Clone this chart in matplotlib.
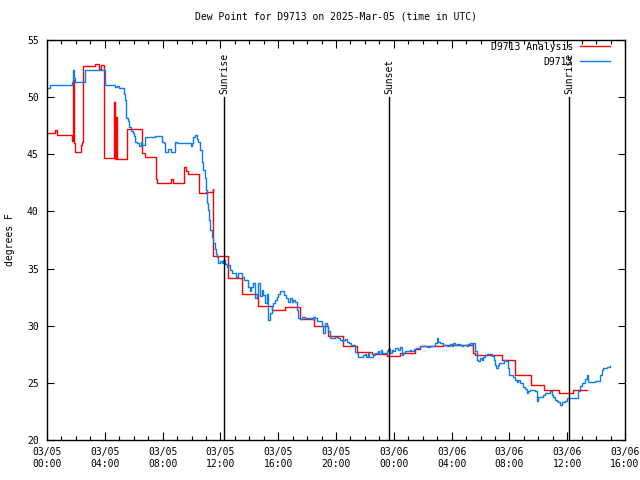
import matplotlib
matplotlib.use("Agg")
import matplotlib.pyplot as plt
from matplotlib.ticker import MultipleLocator

# hours since 2025-03-05 00:00 UTC
analysis_hours = [
    0.0, 0.55, 0.7, 1.59, 1.7, 1.8, 1.87, 1.94, 2.24, 2.35, 2.45, 2.51,
    3.35, 3.6, 3.75, 3.92, 4.64, 4.7, 4.76, 4.82, 5.51, 6.55, 6.78, 7.54,
    7.6, 8.56, 8.7, 9.5, 9.6, 9.78, 10.54, 11.0, 11.47, 11.51, 12.5, 13.52,
    14.63, 15.55, 16.47, 17.51, 18.5, 19.47, 20.51, 21.43, 22.47, 23.5,
    24.43, 25.47, 25.81, 27.43, 29.5, 29.6, 31.47, 32.39, 33.47, 34.39,
    35.45, 36.42, 37.35,
]
analysis_dewpt = [
    46.9, 47.1, 46.7, 46.7, 46.2, 51.5, 46.0, 45.2, 45.2, 45.8, 46.1, 52.7,
    52.9, 52.5, 52.8, 44.7, 49.6, 44.6, 48.3, 44.6, 47.2, 45.1, 44.8, 42.8,
    42.45, 42.8, 42.45, 43.9, 43.5, 43.3, 41.65, 41.7, 42.0, 36.1, 34.15, 32.8,
    31.7, 31.4, 31.6, 30.55, 30.0, 29.1, 28.2, 27.73, 27.5, 27.35,
    27.6, 27.95, 28.2, 28.3, 27.6, 27.45, 27.0, 25.7, 24.8, 24.4,
    24.1, 24.4, 24.4,
]

obs_hours = [
    0.0, 0.2, 1.55, 1.7, 1.8, 1.87, 1.95, 2.5, 2.6, 3.95, 4.0, 4.6, 4.7,
    4.85, 4.95, 5.2, 5.3, 5.4, 5.5, 5.6, 5.7, 5.8, 5.95, 6.05, 6.1, 6.2,
    6.35, 6.5, 6.6, 6.8, 7.5, 7.94, 8.1, 8.17, 8.4, 8.55, 8.8, 8.86, 8.97,
    9.9, 9.95, 10.05, 10.13, 10.25, 10.35, 10.45, 10.59, 10.7, 10.82, 10.9,
    10.97, 11.05, 11.15, 11.23, 11.3, 11.4, 11.5, 11.6, 11.67, 11.75, 11.86,
    11.97, 12.08, 12.2, 12.32, 12.45, 12.55, 12.66, 12.78, 13.0, 13.1, 13.25,
    13.47, 13.6, 13.85, 13.93, 14.05, 14.15, 14.28, 14.39, 14.5, 14.62,
    14.75, 14.85, 14.97, 15.09, 15.2, 15.27, 15.31, 15.43, 15.55, 15.66,
    15.78, 15.9, 16.01, 16.12, 16.3, 16.42, 16.55, 16.7, 16.82, 16.93, 17.05,
    17.16, 17.28, 17.39, 17.5, 17.62, 17.85, 18.2, 18.32, 18.43, 18.55,
    18.66, 18.9, 19.0, 19.12, 19.24, 19.35, 19.47, 19.58, 19.8, 19.93,
    20.15, 20.28, 20.4, 20.51, 20.6, 20.75, 20.9, 21.05, 21.2, 21.31, 21.43,
    21.54, 21.8, 21.9, 22.0, 22.1, 22.2, 22.3, 22.45, 22.58, 22.7, 22.8,
    22.9, 23.0, 23.1, 23.2, 23.5, 23.62, 23.74, 23.85, 23.97, 24.08, 24.3,
    24.43, 24.55, 24.66, 24.78, 24.9, 25.0, 25.1, 25.2, 25.43, 25.55, 25.81,
    26.05, 26.3, 26.5, 26.75, 26.85, 26.97, 27.08, 27.2, 27.43, 27.66, 27.89,
    28.0, 28.12, 28.23, 28.35, 28.58, 28.7, 28.81, 29.04, 29.16, 29.3, 29.4,
    29.5, 29.62, 29.74, 29.85, 29.97, 30.08, 30.2, 30.31, 30.43, 30.66,
    30.78, 30.9, 31.0, 31.07, 31.2, 31.3, 31.53, 31.65, 31.77, 31.88, 32.0,
    32.15, 32.27, 32.39, 32.5, 32.62, 32.73, 32.85, 32.96, 33.08, 33.2,
    33.31, 33.43, 33.66, 33.77, 33.89, 34.0, 34.24, 34.35, 34.47, 34.7,
    34.82, 34.93, 35.05, 35.16, 35.28, 35.39, 35.5, 35.62, 35.85, 35.97,
    36.66, 36.78, 36.9, 37.0, 37.12, 37.24, 37.35, 37.47, 37.7, 37.93,
    38.16, 38.27, 38.39, 38.5, 38.73, 38.96,
]
obs_dewpt = [
    50.8, 51.05, 51.05, 51.35, 52.4, 51.7, 51.35, 51.35, 52.4, 52.4, 51.05, 51.05, 50.9,
    51.0, 50.77, 50.77, 50.3, 49.75, 48.2, 47.9, 47.4, 47.0, 46.9, 46.6, 46.05, 45.95,
    45.7, 46.1, 45.85, 46.55, 46.6, 46.1, 46.0, 45.2, 45.5, 45.2, 45.2, 46.1, 45.96,
    45.96, 45.7, 46.0, 46.55, 46.65, 46.3, 46.1, 45.4, 44.35, 43.6, 42.9,
    41.9, 40.7, 40.1, 39.25, 38.4, 37.8, 37.2, 36.7, 36.3, 36.05, 35.5,
    35.7, 35.5, 35.75, 35.4, 35.1, 35.3, 34.9, 34.6, 34.6, 34.3, 34.6,
    34.3, 34.0, 34.0, 33.4, 33.0, 33.4, 33.7, 32.4, 32.8, 33.7,
    32.6, 33.1, 32.7, 32.0, 32.8, 31.8, 30.5, 31.1, 31.7, 32.0,
    32.25, 32.5, 32.8, 33.07, 33.07, 32.7, 32.4, 32.1, 32.4, 32.1, 32.25,
    32.1, 31.4, 30.65, 30.55, 30.8, 30.65, 30.65, 30.55, 30.8, 30.65,
    30.4, 30.4, 29.95, 29.35, 30.2, 29.95, 29.5, 28.9, 28.9, 29.0,
    28.9, 28.75, 28.65, 28.75, 28.8, 28.6, 28.5, 28.3, 28.3, 27.73, 27.6,
    27.25, 27.25, 27.45, 27.5, 27.3, 27.6, 27.3, 27.25, 27.45, 27.65, 27.6,
    27.75, 27.55, 27.85, 27.6, 27.75, 27.95, 27.6, 27.85, 27.75, 28.05, 27.9,
    28.15, 27.45, 27.6, 27.75, 27.8, 27.75, 27.9, 27.75, 27.95, 28.05, 28.25,
    28.2, 28.15, 28.25, 28.2, 28.5, 28.9, 28.6, 28.45, 28.3, 28.25, 28.4,
    28.25, 28.45, 28.3, 28.4, 28.3, 28.2, 28.3, 28.25, 28.4, 28.5, 28.3,
    28.45, 27.8, 27.0, 26.9, 27.2, 27.0, 27.3, 27.4, 27.53, 27.53,
    27.35, 27.0, 26.6, 26.27, 26.6, 26.7, 26.7, 27.0, 26.9, 26.3, 25.7,
    25.7, 25.55, 25.25, 25.1, 25.25, 24.95, 25.0, 24.65, 24.5, 24.1,
    24.25, 24.35, 24.4, 24.25, 23.45, 23.8, 23.8, 23.95, 24.1, 24.1,
    24.25, 23.95, 23.8, 23.5, 23.45, 23.35, 23.06, 23.35, 23.4, 23.65,
    23.65, 24.25, 24.7, 25.0, 25.0, 25.3, 25.7, 25.1, 25.1, 25.2,
    25.2, 25.7, 26.1, 26.3, 26.4, 26.5,
]

sun_hours = [12.25, 23.67, 36.12]
sun_labels = ["Sunrise", "Sunset", "Sunrise"]

xtick_hours = [0, 4, 8, 12, 16, 20, 24, 28, 32, 36, 40]
xtick_labels = [
    "03/05\n00:00", "03/05\n04:00", "03/05\n08:00", "03/05\n12:00",
    "03/05\n16:00", "03/05\n20:00", "03/06\n00:00", "03/06\n04:00",
    "03/06\n08:00", "03/06\n12:00", "03/06\n16:00",
]

plt.rcParams["font.family"] = "DejaVu Sans Mono"
plt.rcParams["font.size"] = 7

fig = plt.figure(figsize=(6.4, 4.8), dpi=100)
ax = fig.add_axes([47 / 640, 40 / 480, 578 / 640, 400 / 480])

ax.plot(analysis_hours, analysis_dewpt, color="#ff0000", lw=1.0,
        drawstyle="steps-post", label="D9713 Analysis")
ax.plot(obs_hours, obs_dewpt, color="#0a7cf0", lw=1.0,
        drawstyle="steps-post", label="D9713")

# sunrise / sunset markers
for h, lab in zip(sun_hours, sun_labels):
    ax.plot([h, h], [20, 50.0], color="black", lw=1.0)
    ax.text(h, 50.3, lab, rotation=90, ha="center", va="bottom", fontsize=7)

ax.set_xlim(0, 40)
ax.set_ylim(20, 55)
ax.set_xticks(xtick_hours)
ax.set_xticklabels(xtick_labels)
ax.xaxis.set_minor_locator(MultipleLocator(1))
ax.yaxis.set_major_locator(MultipleLocator(5))

ax.tick_params(which="both", direction="in", top=True, right=True, width=0.8)
ax.tick_params(axis="x", which="major", length=6, pad=5)
ax.tick_params(axis="x", which="minor", length=3)
ax.tick_params(axis="y", which="major", length=5, pad=6)
for spine in ax.spines.values():
    spine.set_linewidth(1.0)

ax.set_title("Dew Point for D9713 on 2025-Mar-05 (time in UTC)", pad=15, fontsize=7)
ax.set_ylabel("degrees F")
ax.yaxis.set_label_coords(-0.055, 0.5)

ax.legend(loc="upper right", bbox_to_anchor=(1 - 10 / 578, 1 + 3 / 400),
          frameon=False, markerfirst=False,
          handlelength=3.1, handletextpad=0.7, labelspacing=0.5,
          borderaxespad=0.1, fontsize=7)

fig.savefig("out.png", dpi=100)
